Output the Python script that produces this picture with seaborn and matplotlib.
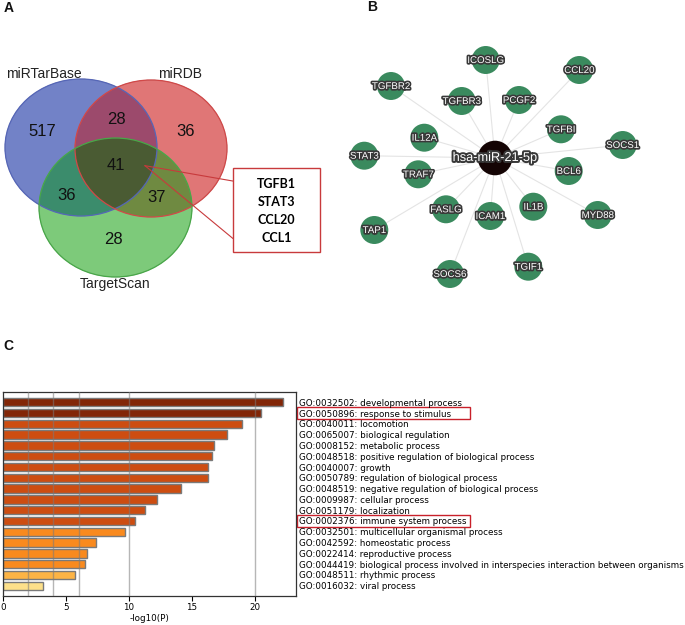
import numpy as np
import pandas as pd
import matplotlib
matplotlib.use("Agg")
import matplotlib.pyplot as plt
import matplotlib.patheffects as pe
from matplotlib.patches import Ellipse, Rectangle
from matplotlib.transforms import blended_transform_factory
import seaborn as sns

# ---------------- data ----------------
# Panel A: Venn of predicted targets
venn_set_names = ["miRTarBase", "miRDB", "TargetScan"]
venn_region_keys = ["100", "010", "001", "110", "101", "011", "111"]
venn_region_counts = [517, 36, 28, 28, 36, 37, 41]
shared_genes = ["TGFB1", "STAT3", "CCL20", "CCL1"]

# Panel B: miRNA-target network
hub_name = "hsa-miR-21-5p"
target_genes = ["ICOSLG", "CCL20", "TGFBR2", "TGFBR3", "PCGF2", "TGFBI", "IL12A",
                "SOCS1", "STAT3", "BCL6", "TRAF7", "FASLG", "IL1B", "ICAM1",
                "MYD88", "TAP1", "TGIF1", "SOCS6"]

# Panel C: GO enrichment
go_ids = ["GO:0032502", "GO:0050896", "GO:0040011", "GO:0065007", "GO:0008152",
          "GO:0048518", "GO:0040007", "GO:0050789", "GO:0048519", "GO:0009987",
          "GO:0051179", "GO:0002376", "GO:0032501", "GO:0042592", "GO:0022414",
          "GO:0044419", "GO:0048511", "GO:0016032"]
go_terms = ["developmental process", "response to stimulus", "locomotion",
            "biological regulation", "metabolic process",
            "positive regulation of biological process", "growth",
            "regulation of biological process",
            "negative regulation of biological process", "cellular process",
            "localization", "immune system process",
            "multicellular organismal process", "homeostatic process",
            "reproductive process",
            "biological process involved in interspecies interaction between organisms",
            "rhythmic process", "viral process"]
go_logp = [22.2, 20.45, 19.0, 17.75, 16.75, 16.55, 16.3, 16.25, 14.1, 12.25,
           11.25, 10.45, 9.65, 7.35, 6.7, 6.5, 5.7, 3.15]
highlight_ids = ["GO:0050896", "GO:0002376"]
color_breaks = [2, 4, 6, 10, 20]

# ---------------- layout / style (pixel coordinates) ----------------
W, H = 685, 625
bin_colors = ["#fff5c0", "#fde08a", "#fdb445", "#f98a1e", "#cd4d11", "#822607"]

ell_params = [(81, 147.5, 76, 68.5), (151, 148.5, 76, 68.5), (115.5, 207.5, 76.5, 69.5)]
ell_edges = ["#5566b8", "#d24848", "#48a848"]
region_colors = {"100": "#7282c8", "010": "#e07676", "001": "#7dca7a",
                 "110": "#9c4a6c", "101": "#3c8c6c", "011": "#6f8a42", "111": "#4b5c33"}
region_pos = {"100": (42, 132), "010": (186, 131), "001": (113, 240), "110": (116, 119),
              "101": (67, 196), "011": (157, 197.5), "111": (116, 165)}
set_label_pos = [(44, 74), (180, 74), (115, 284)]

hub_pos = (495, 158)
node_x = [485.7, 579.3, 391, 461.7, 519, 561, 424.3, 622.7, 364.3, 568.7, 418.3,
          446, 533.3, 490.3, 597.7, 374.3, 528.3, 450]
node_y = [60, 70, 86, 101, 100, 129.3, 137.7, 145, 155.7, 171, 174.3, 209.3,
          206.7, 216, 215, 230, 266.7, 274]

fig = plt.figure(figsize=(6.85, 6.25), dpi=100)


def px_axes(l, t, r, b, **kw):
    return fig.add_axes([l / W, 1 - b / H, (r - l) / W, (b - t) / H], **kw)


# ---------------- Panel C: bar chart ----------------
ax = px_axes(3, 392, 296, 596)
labels = [f"{g}: {t}" for g, t in zip(go_ids, go_terms)]
bins = np.digitize(go_logp, color_breaks)
colors = [bin_colors[i] for i in bins]
df = pd.DataFrame({"term": labels, "logp": go_logp})
sns.barplot(data=df, x="logp", y="term", hue="term", palette=colors, legend=False,
            orient="h", width=0.77, edgecolor="#7a7a7a", linewidth=1.0,
            saturation=1, ax=ax, zorder=2)
for v in color_breaks:
    ax.axvline(v, color="#7a7a7a", lw=1.0, alpha=0.55, zorder=3)
ax.set_xlim(0, 23.25)
ax.set_ylim(len(labels) - 1 + 0.95, -0.95)
ax.set_xticks([0, 5, 10, 15, 20])
ax.set_xlabel("-log10(P)", fontsize=6.3, labelpad=1.5)
ax.set_ylabel("")
ax.yaxis.tick_right()
ax.tick_params(axis="y", length=0, pad=2.3, labelsize=6.3)
ax.tick_params(axis="x", length=3.5, width=0.8, pad=1.5, labelsize=6.3)
for s in ax.spines.values():
    s.set_color("#333333")
    s.set_linewidth(0.9)
tr = blended_transform_factory(ax.transAxes, ax.transData)
for i, gid in enumerate(go_ids):
    if gid in highlight_ids:
        ax.add_patch(Rectangle((1.002, i - 0.52), 0.591, 1.04, transform=tr,
                               fill=False, edgecolor="#c8202a", lw=1.0, clip_on=False))

# ---------------- overlay axes for panels A and B ----------------
ov = fig.add_axes([0, 0, 1, 1], zorder=5)
ov.patch.set_alpha(0)

# Venn regions rendered as an image
xs = np.arange(0, 240, 0.25) + 0.125
ys = np.arange(60, 290, 0.25) + 0.125
X, Y = np.meshgrid(xs, ys)
masks = [((X - cx) / rx) ** 2 + ((Y - cy) / ry) ** 2 <= 1 for cx, cy, rx, ry in ell_params]
img = np.zeros(X.shape + (4,))
for key, col in region_colors.items():
    m = np.ones(X.shape, bool)
    for k, msk in zip(key, masks):
        m &= msk if k == "1" else ~msk
    img[m] = matplotlib.colors.to_rgba(col)
ov.imshow(img, extent=(0, 240, 290, 60), origin="upper", aspect="auto",
          interpolation="antialiased", zorder=1)
for (cx, cy, rx, ry), ec in zip(ell_params, ell_edges):
    ov.add_patch(Ellipse((cx, cy), 2 * rx, 2 * ry, fill=False, edgecolor=ec, lw=0.9, zorder=2))
for key, cnt in zip(venn_region_keys, venn_region_counts):
    x, y = region_pos[key]
    ov.text(x, y, str(cnt), ha="center", va="center", fontsize=12,
            family="Liberation Sans", color="#111111", zorder=4)
for name, (x, y) in zip(venn_set_names, set_label_pos):
    ov.text(x, y, name, ha="center", va="center", fontsize=10,
            family="Liberation Sans", color="#222222", zorder=4)

# annotation box
red = "#c83a3c"
px0, py0 = 145, 165.7
ov.plot([px0, 232.7], [py0, 181], color=red, lw=0.8, zorder=5)
ov.plot([px0, 232.7], [py0, 238.3], color=red, lw=0.8, zorder=5)
ov.add_patch(Rectangle((232.7, 167.7), 87.3, 84.6, fill=True, facecolor="white",
                       edgecolor=red, lw=1.0, zorder=5))
for i, g in enumerate(shared_genes):
    ov.text(276.5, 183.7 + i * 18.2, g, ha="center", va="center", fontsize=9,
            family="Lato", weight="bold", color="black", zorder=6)

# network
for x, y in zip(node_x, node_y):
    ov.plot([hub_pos[0], x], [hub_pos[1], y], color="#e4e4e4", lw=0.8, zorder=1)
sns.scatterplot(x=node_x, y=node_y, s=406, color="#3a8a5e", edgecolor="none",
                ax=ov, legend=False, zorder=3)
sns.scatterplot(x=[hub_pos[0]], y=[hub_pos[1]], s=620, color="#140404",
                edgecolor="none", ax=ov, legend=False, zorder=3)
stroke = [pe.withStroke(linewidth=2.4, foreground="#383838")]
for g, x, y in zip(target_genes, node_x, node_y):
    ov.text(x, y, g, ha="center", va="center", fontsize=7.0, family="Liberation Sans",
            color="white", path_effects=stroke, zorder=4)
ov.text(hub_pos[0], hub_pos[1], hub_name, ha="center", va="center", fontsize=9.2,
        family="Liberation Sans", color="white",
        path_effects=[pe.withStroke(linewidth=2.8, foreground="#383838")], zorder=4)

# panel letters
for lab, (x, y) in zip(["A", "B", "C"], [(9, 8), (372, 7), (8, 346)]):
    ov.text(x, y, lab, ha="center", va="center", fontsize=10, weight="bold",
            family="Liberation Sans", color="#111111", zorder=6)

ov.set_xlim(0, W)
ov.set_ylim(H, 0)
ov.axis("off")

fig.savefig("out.png", dpi=100)
